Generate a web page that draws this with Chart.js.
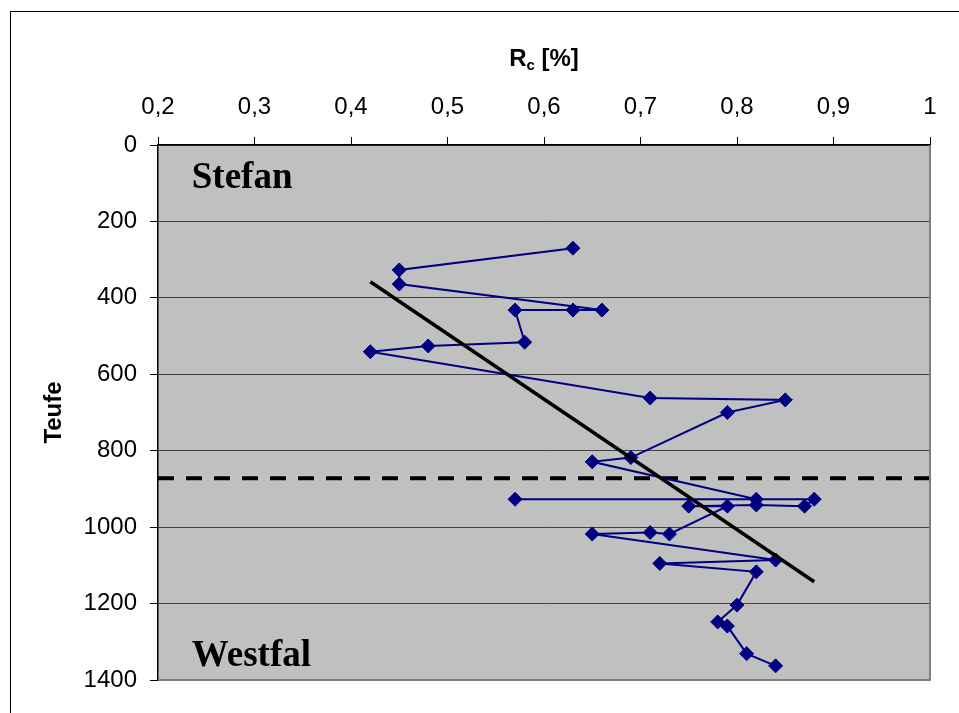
<!DOCTYPE html>
<html lang="de">
<head>
  <meta charset="UTF-8" />
  <title>Rc gegen Teufe</title>
  <script src="https://cdn.jsdelivr.net/npm/chart.js"></script>
  <style>
    html, body {
      margin: 0;
      padding: 0;
      background: #fff;
      overflow: hidden;
    }
    #wrap {
      width: 959px;
      height: 713px;
      position: relative;
    }
  </style>
</head>
<body>
  <div id="wrap"><canvas id="rcChart"></canvas></div>

  <script>
    // Vitrinit-Reflexion Rc [%] gegen Teufe
    const rcValues = [0.63, 0.45, 0.45, 0.66, 0.63, 0.57, 0.58, 0.48, 0.42, 0.71, 0.85, 0.79, 0.69, 0.65,
                      0.82, 0.57, 0.88, 0.87, 0.82, 0.75, 0.79, 0.73, 0.71, 0.65, 0.84, 0.72, 0.82, 0.80,
                      0.78, 0.79, 0.81, 0.84];
    const depthValues = [270, 327, 364, 432, 432, 432, 516, 526, 541, 662, 667, 700, 818, 829,
                         927, 927, 927, 945, 942, 945, 945, 1018, 1014, 1018, 1086, 1095, 1117, 1204,
                         1248, 1259, 1331, 1363];

    // linearer Trend
    const trendRc = [0.42, 0.88];
    const trendDepth = [358, 1143];

    // Grenze Stefan / Westfal
    const boundaryRc = [0.2, 1.0];
    const boundaryDepth = [872, 872];

    const unitLabels = ["Stefan", "Westfal"];
    const unitRc = [0.235, 0.235];
    const unitDepth = [113, 1364];

    const toPoints = (xs, ys) => xs.map((x, i) => ({ x: x, y: ys[i] }));

    const decorPlugin = {
      id: "decor",
      beforeDraw(chart) {
        const { ctx, chartArea: a } = chart;
        ctx.save();
        ctx.fillStyle = "#c0c0c0";
        ctx.fillRect(a.left, a.top, a.right - a.left, a.bottom - a.top);
        ctx.restore();
      },
      afterDatasetsDraw(chart) {
        const { ctx, chartArea: a, scales } = chart;
        ctx.save();
        // rechter und unterer Rand der Zeichenfläche
        ctx.strokeStyle = "#808080";
        ctx.lineWidth = 2;
        ctx.beginPath();
        ctx.moveTo(a.right, a.top);
        ctx.lineTo(a.right, a.bottom);
        ctx.lineTo(a.left, a.bottom);
        ctx.stroke();

        // Rahmen
        ctx.strokeStyle = "#000";
        ctx.lineWidth = 1;
        ctx.strokeRect(10.5, 11.5, 1200, 1200);

        // Stratigraphie
        ctx.fillStyle = "#000";
        ctx.font = "bold 37px 'Liberation Serif', 'Times New Roman', serif";
        ctx.textAlign = "left";
        ctx.textBaseline = "alphabetic";
        unitLabels.forEach((t, i) => {
          ctx.fillText(t, scales.x.getPixelForValue(unitRc[i]), scales.y.getPixelForValue(unitDepth[i]));
        });

        // Achsentitel oben: Rc [%]
        ctx.font = "bold 24px 'Liberation Sans', Arial, sans-serif";
        const subFont = "bold 15px 'Liberation Sans', Arial, sans-serif";
        const wR = ctx.measureText("R").width;
        const wRest = ctx.measureText(" [%]").width;
        ctx.font = subFont;
        const wC = ctx.measureText("c").width;
        const cx = (a.left + a.right) / 2;
        let x0 = cx - (wR + wC + wRest) / 2;
        const base = 66;
        ctx.font = "bold 24px 'Liberation Sans', Arial, sans-serif";
        ctx.fillText("R", x0, base);
        ctx.font = subFont;
        ctx.fillText("c", x0 + wR, base + 4);
        ctx.font = "bold 24px 'Liberation Sans', Arial, sans-serif";
        ctx.fillText(" [%]", x0 + wR + wC, base);

        // Achsentitel links: Teufe
        ctx.translate(54, (a.top + a.bottom) / 2);
        ctx.rotate(-Math.PI / 2);
        ctx.textAlign = "center";
        ctx.textBaseline = "middle";
        ctx.fillText("Teufe", 0, 0);
        ctx.restore();
      }
    };

    new Chart(document.getElementById("rcChart"), {
      type: "scatter",
      data: {
        datasets: [
          {
            label: "Trend",
            data: toPoints(trendRc, trendDepth),
            showLine: true,
            borderColor: "#000",
            borderWidth: 3.5,
            pointRadius: 0
          },
          {
            label: "Rc",
            data: toPoints(rcValues, depthValues),
            showLine: true,
            borderColor: "#000080",
            backgroundColor: "#000080",
            borderWidth: 2,
            pointStyle: "rectRot",
            pointRadius: 7,
            pointBorderWidth: 1
          },
          {
            label: "Grenze",
            data: toPoints(boundaryRc, boundaryDepth),
            showLine: true,
            borderColor: "#000",
            borderWidth: 4,
            borderDash: [16, 12],
            pointRadius: 0
          }
        ]
      },
      options: {
        responsive: true,
        maintainAspectRatio: false,
        animation: false,
        layout: { padding: { left: 0, top: 0, right: 29, bottom: 33 } },
        plugins: {
          legend: { display: false },
          tooltip: { enabled: false }
        },
        scales: {
          x: {
            type: "linear",
            position: "top",
            min: 0.2,
            max: 1.0,
            ticks: {
              stepSize: 0.1,
              color: "#000",
              padding: 15,
              maxRotation: 0,
              font: { family: "'Liberation Sans', Arial, sans-serif", size: 24 },
              callback: v => String(Math.round(v * 10) / 10).replace(".", ",")
            },
            grid: {
              drawOnChartArea: false,
              drawTicks: true,
              tickLength: 8,
              tickColor: "#000"
            },
            border: { color: "#000", width: 1.5 },
            afterFit: s => { s.height = 145; }
          },
          y: {
            type: "linear",
            reverse: true,
            min: 0,
            max: 1400,
            ticks: {
              stepSize: 200,
              color: "#000",
              padding: 13,
              font: { family: "'Liberation Sans', Arial, sans-serif", size: 24 },
              callback: v => String(v)
            },
            grid: {
              color: "#404040",
              lineWidth: 1,
              tickLength: 8,
              tickColor: "#000"
            },
            border: { color: "#000", width: 1.5 },
            afterFit: s => { s.width = 158; }
          }
        }
      },
      plugins: [decorPlugin]
    });
  </script>
</body>
</html>
